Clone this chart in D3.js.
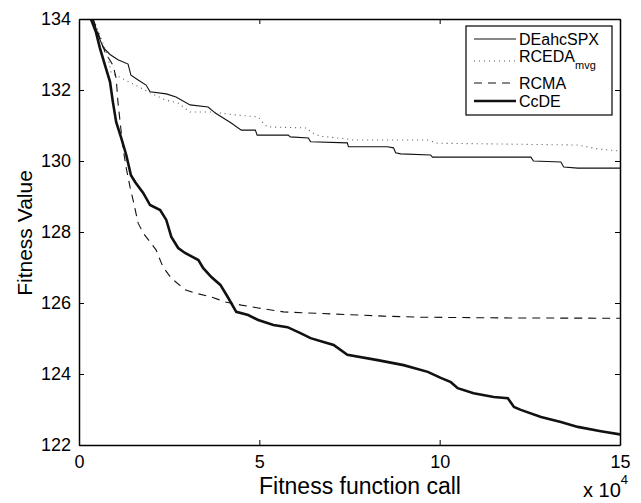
<!DOCTYPE html>
<html>
<head>
<script src="https://d3js.org/d3.v7.min.js"></script>
<style>
body { margin: 0; background: #fff; }
svg { font-family: "Liberation Sans", Arial, sans-serif; }
</style>
</head>
<body>
<svg id="chart" width="641" height="503"></svg>
<script>
// x values in units of 10^4 fitness function calls
var xTicks = [0, 5, 10, 15];
var yTicks = [122, 124, 126, 128, 130, 132, 134];

var deX = [0.3, 0.39, 0.53, 0.67, 0.86, 1.08, 1.36, 1.44, 1.64, 1.86, 1.97, 2.42, 2.69, 3.08, 3.58, 3.78, 4.22, 4.5, 4.89, 4.94, 5.8, 5.86, 6.36, 6.42, 7.44, 7.47, 8.55, 8.72, 8.78, 8.92, 9.75, 9.8, 12.53, 12.6, 13.36, 13.44, 13.83, 15];
var deY = [134.4, 134, 133.55, 133.2, 133.0, 132.85, 132.73, 132.42, 132.28, 132.14, 131.95, 131.89, 131.8, 131.58, 131.52, 131.35, 131.07, 130.87, 130.87, 130.73, 130.73, 130.68, 130.65, 130.54, 130.51, 130.4, 130.4, 130.37, 130.23, 130.2, 130.17, 130.11, 130.11, 130.0, 129.97, 129.83, 129.8, 129.8];

var edaX = [0.3, 0.4, 0.6, 0.81, 0.89, 1.17, 1.56, 1.92, 2.39, 2.75, 3.08, 3.67, 4.33, 4.97, 5.08, 5.22, 6.33, 6.42, 6.69, 7.44, 7.61, 9.67, 9.94, 10.03, 13.83, 14.39, 15];
var edaY = [134.4, 134, 133.5, 132.9, 132.48, 132.34, 132.14, 131.95, 131.72, 131.63, 131.38, 131.38, 131.3, 131.24, 131.1, 130.96, 130.93, 130.82, 130.7, 130.62, 130.59, 130.59, 130.5, 130.5, 130.45, 130.34, 130.28];

var rcmaX = [0.3, 0.39, 0.72, 0.94, 1.03, 1.08, 1.14, 1.22, 1.31, 1.42, 1.5, 1.64, 1.78, 1.97, 2.14, 2.33, 2.56, 2.94, 3.22, 3.67, 4.06, 4.5, 4.97, 5.67, 7.06, 8.44, 9.47, 11.7, 15];
var rcmaY = [134.4, 134, 133.07, 132.7, 132.34, 131.66, 131.1, 130.37, 129.8, 129.24, 128.9, 128.25, 127.97, 127.72, 127.49, 127.01, 126.7, 126.37, 126.28, 126.17, 126.03, 125.94, 125.86, 125.75, 125.69, 125.63, 125.6, 125.58, 125.57];

var ccX = [0.25, 0.33, 0.47, 0.58, 0.72, 0.86, 0.94, 1.03, 1.17, 1.31, 1.44, 1.56, 1.78, 1.97, 2.25, 2.42, 2.56, 2.75, 2.94, 3.31, 3.44, 3.67, 3.92, 4.14, 4.36, 4.69, 4.97, 5.39, 5.78, 6.14, 6.42, 6.78, 7.06, 7.44, 8.28, 9.0, 9.67, 10.03, 10.31, 10.5, 10.94, 11.5, 11.89, 12.06, 12.25, 12.81, 13.36, 13.83, 14.47, 15];
var ccY = [134.4, 134, 133.63, 133.18, 132.7, 132.23, 131.66, 131.1, 130.65, 130.17, 129.6, 129.4, 129.1, 128.76, 128.62, 128.34, 127.86, 127.55, 127.41, 127.21, 126.99, 126.73, 126.51, 126.14, 125.75, 125.66, 125.52, 125.38, 125.32, 125.15, 125.01, 124.9, 124.82, 124.54, 124.39, 124.25, 124.06, 123.89, 123.77, 123.6, 123.46, 123.35, 123.32, 123.07, 122.99, 122.79, 122.65, 122.51, 122.39, 122.3];

var seriesNames = ["DEahcSPX", "RCEDA", "RCMA", "CcDE"];

var svg = d3.select("#chart");
var mLeft = 79, mRight = 620, mTop = 19, mBottom = 445; // plot box in px

var x = d3.scaleLinear().domain([0, 15]).range([mLeft, mRight]);
var y = d3.scaleLinear().domain([122, 134]).range([mBottom, mTop]);

svg.append("clipPath").attr("id", "clip")
  .append("rect").attr("x", mLeft).attr("y", mTop)
  .attr("width", mRight - mLeft).attr("height", mBottom - mTop);

function pairs(xs, ys) { return xs.map(function(d, i) { return [d, ys[i]]; }); }
var line = d3.line().x(function(d) { return x(d[0]); }).y(function(d) { return y(d[1]); });

var series = [
  { data: pairs(deX, deY), width: 1.1, dash: null, color: "#111" },
  { data: pairs(edaX, edaY), width: 1.1, dash: "1,4", color: "#555" },
  { data: pairs(rcmaX, rcmaY), width: 1.1, dash: "8,6", color: "#111" },
  { data: pairs(ccX, ccY), width: 2.6, dash: null, color: "#111" }
];

var plot = svg.append("g").attr("clip-path", "url(#clip)");
series.forEach(function(s) {
  plot.append("path")
    .attr("d", line(s.data))
    .attr("fill", "none")
    .attr("stroke", s.color)
    .attr("stroke-width", s.width)
    .attr("stroke-dasharray", s.dash);
});

// axes, MATLAB style: ticks inside, box all round
var xAxis = d3.axisBottom(x).tickValues(xTicks).tickSizeInner(-5).tickSizeOuter(0).tickPadding(10);
var yAxis = d3.axisLeft(y).tickValues(yTicks).tickSizeInner(-5).tickSizeOuter(0).tickPadding(8);

svg.append("g").attr("transform", "translate(0," + mBottom + ")").call(xAxis);
svg.append("g").attr("transform", "translate(" + mLeft + ",0)").call(yAxis);
svg.append("g").attr("transform", "translate(0," + mTop + ")")
  .call(d3.axisTop(x).tickValues(xTicks).tickSizeInner(-5).tickSizeOuter(0).tickFormat(""));
svg.append("g").attr("transform", "translate(" + mRight + ",0)")
  .call(d3.axisRight(y).tickValues(yTicks).tickSizeInner(-5).tickSizeOuter(0).tickFormat(""));

svg.selectAll(".domain").attr("stroke", "#000").attr("stroke-width", 1.5);
svg.selectAll(".tick line").attr("stroke", "#000");
svg.selectAll(".tick text").attr("font-size", 18).attr("fill", "#000")
  .attr("font-family", "Liberation Sans, Arial, sans-serif");

svg.append("text").attr("x", 360).attr("y", 494)
  .attr("text-anchor", "middle").attr("font-size", 23).text("Fitness function call");

var ex = svg.append("text").attr("x", 583).attr("y", 497).attr("font-size", 20);
ex.append("tspan").text("x 10");
ex.append("tspan").attr("dy", -13).attr("font-size", 13).text("4");

svg.append("text")
  .attr("transform", "translate(32,233) rotate(-90)")
  .attr("text-anchor", "middle").attr("font-size", 21).text("Fitness Value");

// legend
var lg = svg.append("g");
lg.append("rect").attr("x", 466).attr("y", 26).attr("width", 146).attr("height", 89)
  .attr("fill", "#fff").attr("stroke", "#000").attr("stroke-width", 1.2);
var lineY = [39, 61, 83, 101];
var textY = [45, 62, 89, 107];
series.forEach(function(s, i) {
  lg.append("line").attr("x1", 474).attr("x2", 516).attr("y1", lineY[i]).attr("y2", lineY[i])
    .attr("stroke", s.color).attr("stroke-width", s.width).attr("stroke-dasharray", s.dash);
  var t = lg.append("text").attr("x", 519).attr("y", textY[i])
    .attr("font-size", 16).text(seriesNames[i]);
  if (i === 1) {
    t.append("tspan").attr("dy", 7).attr("font-size", 11).text("mvg");
  }
});
</script>
</body>
</html>
